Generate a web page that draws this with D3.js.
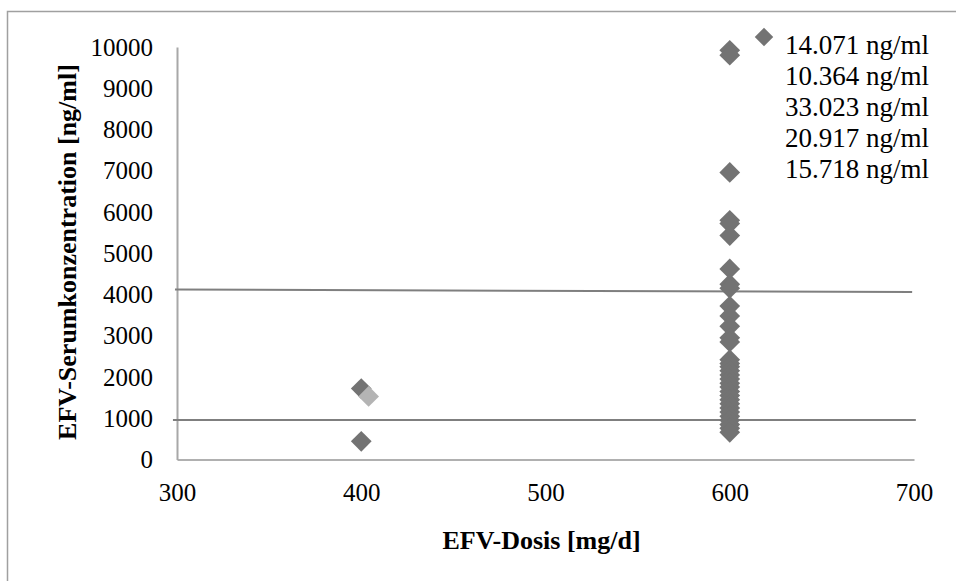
<!DOCTYPE html>
<html>
<head>
<meta charset="utf-8">
<script src="https://cdn.jsdelivr.net/npm/d3@7"></script>
<style>
    body { margin: 0; background: #fff; }
</style>
</head>
<body>
<div class="chart"></div>
<script>
// Dosis (mg/d) und EFV-Spiegel (ng/ml)
let doseDark = [400, 400,
    600, 600, 600, 600, 600, 600, 600, 600, 600, 600, 600, 600, 600, 600, 600,
    600, 600, 600, 600, 600, 600, 600, 600, 600, 600, 600, 600, 600, 600, 600, 600, 600, 600]
let concDark = [1720, 440,
    9920, 9800, 6960, 5800, 5720, 5430, 4620, 4250, 4150, 3720, 3480, 3230, 2950, 2850, 2420,
    2330, 2250, 2150, 2050, 1950, 1850, 1760, 1650, 1550, 1450, 1350, 1250, 1150, 1050, 950, 850, 760, 660]
let doseLight = [404]
let concLight = [1530]

// Grenzlinien (Start/Ende in Achsenwerten)
let upperLineX = [298.9, 699]
let upperLineY = [4120, 4060]
let lowerLineX = [297.8, 701]
let lowerLineY = [960, 960]

let xTicks = [300, 400, 500, 600, 700]
let yTicks = [0, 1000, 2000, 3000, 4000, 5000, 6000, 7000, 8000, 9000, 10000]
let legendLines = ["14.071 ng/ml", "10.364 ng/ml", "33.023 ng/ml", "20.917 ng/ml", "15.718 ng/ml"]

let width = 956, height = 581
let plot = { left: 177, right: 914, top: 47, bottom: 459.5 }
let font = "Liberation Serif"

let svg = d3.select(".chart")
    .append("svg")
    .attr("width", width)
    .attr("height", height)
    .style("font-family", font)

// Rahmen
svg.append("rect")
    .attr("x", 7.5)
    .attr("y", 11.5)
    .attr("width", 1000)
    .attr("height", 1000)
    .attr("fill", "none")
    .attr("stroke", "#a0a0a0")
    .attr("stroke-width", 1.5)

let xScale = d3.scaleLinear().domain([300, 700]).range([plot.left, plot.right])
let yScale = d3.scaleLinear().domain([0, 10000]).range([plot.bottom, plot.top])

// Achsen ohne Ticks
let xAxis = svg.append("g")
    .attr("transform", `translate(0,${plot.bottom})`)
    .call(d3.axisBottom(xScale).tickValues(xTicks).tickSize(0).tickPadding(24).tickFormat(d3.format("d")))
xAxis.select(".domain").attr("stroke", "#b0b0b0").attr("stroke-width", 2)
xAxis.selectAll("text")
    .attr("fill", "#000")
    .style("font-family", font)
    .style("font-size", "25px")

let yAxis = svg.append("g")
    .attr("transform", `translate(${plot.left},0)`)
    .call(d3.axisLeft(yScale).tickValues(yTicks).tickSize(0).tickPadding(24).tickFormat(d3.format("d")))
yAxis.select(".domain").attr("stroke", "#a8a8a8").attr("stroke-width", 2)
yAxis.selectAll("text")
    .attr("fill", "#000")
    .style("font-family", font)
    .style("font-size", "25px")

// Grenzlinien
let line = d3.line().x((d) => xScale(d[0])).y((d) => yScale(d[1]))
svg.append("path")
    .attr("d", line(d3.zip(upperLineX, upperLineY)))
    .attr("stroke", "#7f7f7f")
    .attr("stroke-width", 2)
    .attr("fill", "none")
svg.append("path")
    .attr("d", line(d3.zip(lowerLineX, lowerLineY)))
    .attr("stroke", "#7f7f7f")
    .attr("stroke-width", 2)
    .attr("fill", "none")

// Rauten (gedrehtes Quadrat)
let diamond = d3.symbol().type(d3.symbolSquare).size(215)

svg.append("g")
    .selectAll("path")
    .data(d3.zip(doseDark, concDark))
    .enter()
    .append("path")
    .attr("d", diamond)
    .attr("transform", (d) => `translate(${xScale(d[0])},${yScale(d[1])}) rotate(45)`)
    .attr("fill", "#737373")

svg.append("g")
    .selectAll("path")
    .data(d3.zip(doseLight, concLight))
    .enter()
    .append("path")
    .attr("d", diamond)
    .attr("transform", (d) => `translate(${xScale(d[0])},${yScale(d[1])}) rotate(45)`)
    .attr("fill", "#b4b4b4")

// Legende
let legend = svg.append("g").attr("transform", "translate(764,37)")
legend.append("path")
    .attr("d", d3.symbol().type(d3.symbolSquare).size(170))
    .attr("transform", "rotate(45)")
    .attr("fill", "#737373")
legend.selectAll("text")
    .data(legendLines)
    .enter()
    .append("text")
    .attr("x", 21)
    .attr("y", (d, i) => 17 + i * 31)
    .attr("font-size", 27)
    .text((d) => d)

// Achsentitel
svg.append("text")
    .attr("x", (plot.left + plot.right) / 2 - 4)
    .attr("y", 549)
    .attr("text-anchor", "middle")
    .attr("font-size", 26)
    .attr("font-weight", "bold")
    .text("EFV-Dosis [mg/d]")

svg.append("text")
    .attr("transform", "translate(76,252) rotate(-90)")
    .attr("text-anchor", "middle")
    .attr("font-size", 26)
    .attr("font-weight", "bold")
    .text("EFV-Serumkonzentration [ng/ml]")
</script>
</body>
</html>
